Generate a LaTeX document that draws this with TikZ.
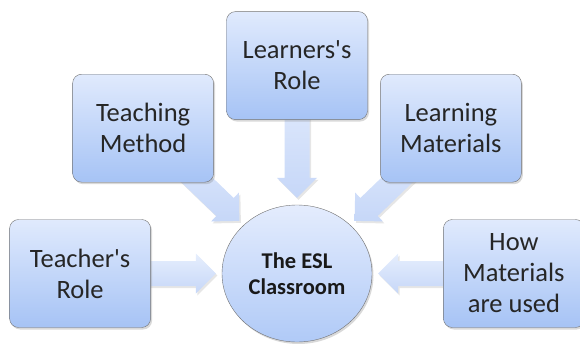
\documentclass[tikz,border=0pt]{standalone}
\usepackage{fontspec}
\setmainfont{Carlito}
\usetikzlibrary{positioning,calc,shapes.geometric,shadows,backgrounds}

\definecolor{boxtop}{RGB}{224,234,253}
\definecolor{boxbot}{RGB}{166,195,245}
\definecolor{hubtop}{RGB}{228,236,253}
\definecolor{hubbot}{RGB}{176,202,247}
\definecolor{flowtop}{RGB}{230,238,253}
\definecolor{flowbot}{RGB}{198,215,248}

\begin{document}
\begin{tikzpicture}[x=1pt, y=1pt, node distance=71pt]
	\tikzstyle{box}=[draw=black!55, rounded corners=9pt, top color=boxtop, bottom color=boxbot,
		minimum width=141pt, minimum height=108pt, align=center, text=black!85,
		font=\fontsize{26.5}{31}\selectfont,
		drop shadow={shadow xshift=1.5pt, shadow yshift=-2pt, opacity=0.3}]
	\tikzstyle{hub}=[ellipse, draw=black!55, top color=hubtop, bottom color=hubbot,
		minimum width=150pt, minimum height=137pt, inner sep=0pt, align=center, text=black!90,
		font=\bfseries\fontsize{22.5}{26}\selectfont,
		drop shadow={shadow xshift=1.5pt, shadow yshift=-2pt, opacity=0.3}]
	\tikzstyle{flow}=[top color=flowtop, bottom color=flowbot,
		drop shadow={shadow xshift=1.5pt, shadow yshift=-2pt, opacity=0.2}]

	\useasboundingbox (0,0) rectangle (580,343);
	\clip (0,0) rectangle (580,343);

	\node[hub] (esl) at (297,69.5) {The ESL\\Classroom};
	\node[box] (tr) [left = of esl]  {Teacher\textquotesingle s\\Role};
	\node[box] (hm) [right = of esl] {How\\Materials\\are used};
	\node[box] (lr) [above = 85pt of esl] {Learners\textquotesingle s\\Role};
	\node[box] (tm) [above left = 42.5pt and 30pt of esl]  {Teaching\\Method};
	\node[box] (lm) [above right = 42.5pt and 30pt of esl] {Learning\\Materials};

	% arrow tips, just short of the ellipse
	\coordinate (ttr) at ($(esl.west)+(-6,0)$);
	\coordinate (thm) at ($(esl.east)+(6,0)$);
	\coordinate (tlr) at ($(esl.north)+(0,7)$);
	\coordinate (ttm) at ($(esl.north west)!-6pt!(esl.center)$);
	\coordinate (tlm) at ($(esl.north east)!-6pt!(esl.center)$);

	% block arrows behind the boxes
	\begin{pgfonlayer}{background}
		\foreach \from/\to in {tr/ttr, hm/thm, lr/tlr, tm/ttm, lm/tlm}{
			\coordinate (base) at ($(\to)!20pt!(\from.center)$);
			\path[flow] ($(\from.center)!12.5pt!90:(\to)$) -- ($(base)!12.5pt!90:(\to)$)
				-- ($(base)!20pt!90:(\to)$) -- (\to) -- ($(base)!20pt!-90:(\to)$)
				-- ($(base)!12.5pt!-90:(\to)$) -- ($(\from.center)!12.5pt!-90:(\to)$) -- cycle;
		}
	\end{pgfonlayer}
\end{tikzpicture}
\end{document}
